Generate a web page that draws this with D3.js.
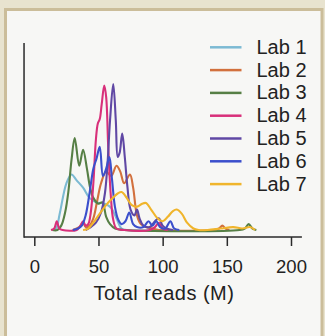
<!DOCTYPE html>
<html><head><meta charset="utf-8">
<script src="https://cdn.jsdelivr.net/npm/d3@7"></script>
<style>body{margin:0;background:#e8e3cf}svg{display:block}</style>
</head><body>
<script>
// ---- data (reads in millions, density in arbitrary units) ----
const labs = ["Lab 1","Lab 2","Lab 3","Lab 4","Lab 5","Lab 6","Lab 7"];
const colors = ["#7cbad3","#d2703d","#567f45","#d8307a","#6048a4","#3b4fcc","#f0b52c"];
const xTicks = [0,50,100,150,200];
const xLabel = "Total reads (M)";

const lab1 = [[15,0],[17,1],[20,12],[25,32],[29,38],[33,34],[38,29],[43,22],[48,19],[55,18],[60,15],[64,8],[68,1],[72,0],[110,0]];
const lab2 = [[30,0],[35,2],[38,5],[40,2],[43,3],[46,8],[49,20],[52,32],[56,40],[60,37],[64,44],[67,40],[70,32],[74.5,38],[77,29],[80,10],[83,4],[87,2],[92,1],[97,0],[140,0],[144,1],[146.5,3],[149,1],[152,0]];
const lab3 = [[14,0],[18,0],[21,3],[24,12],[26.5,26],[29,48],[31.5,63],[35,44],[38,55],[41,42],[43.5,29],[46,22],[50,18],[53,19],[56,9],[59,4],[63,1],[70,0],[160,0],[164,1],[167,4],[170,1],[173,0]];
const lab4 = [[13,0],[15.5,1],[17.5,6],[19.5,1],[22,0],[33,0],[36,3],[38,6],[40,3],[42,4],[44,12],[46,32],[48,62],[49.5,73],[51,76],[52.5,86],[54.5,99],[56,91],[57.6,57],[59.5,25],[61.5,7],[64,1],[70,0],[90,0],[94,2],[97,5],[100,1],[104,0]];
const lab5 = [[40,0],[44,2],[48,5],[52,12],[55,25],[57,45],[59,75],[61.5,100],[63.5,75],[65,50],[66.5,53],[68.5,66],[70.5,50],[72.5,30],[75,14],[78,10],[80,14],[82,8],[85,3],[90,2],[94,6],[97,8],[100,3],[103,1],[108,0]];
const lab6 = [[30,0],[34,1],[37,3],[40,10],[43,25],[46,42],[48.5,49],[51,57],[53.5,37],[56,42],[58.5,50],[60.5,35],[62.8,16],[65.4,7],[68,4],[71,6],[74,12],[77,4],[80,2],[85,2],[89,6],[92,3],[95,6],[98,2],[102,1],[106,6],[109,1],[113,0]];
const lab7 = [[38,0],[42,1],[46,5],[50,10],[55,16],[60,21],[65,25],[68,26],[72,22],[76,17],[80,16],[84,18],[87,18.5],[91,14],[96,8],[100,6],[104,9],[108,13],[111,14],[115,11],[119,5],[124,1],[128,0],[135,0],[145,1],[155,2],[162,1],[168,2],[172,0]];
const series = [lab1,lab2,lab3,lab4,lab5,lab6,lab7];

// ---- drawing ----
const W = 325, H = 336;
const svg = d3.select("body").append("svg").attr("width",W).attr("height",H);
svg.append("rect").attr("width",W).attr("height",H).attr("fill","#e8e3cf");
svg.append("rect").attr("x",5.5).attr("y",9.5).attr("width",316.5).attr("height",335)
  .attr("fill","#f7f7f5").attr("stroke","#cbbd9a").attr("stroke-width",3);

const x = d3.scaleLinear().domain([0,200]).range([34.3,291]);
const y = d3.scaleLinear().domain([0,100]).range([230,84]);
const axisY = 237;
const font = "'Liberation Sans', Arial, sans-serif";

// axes lines
svg.append("line").attr("x1",x(-8)).attr("x2",x(-8)).attr("y1",43).attr("y2",axisY+0.75)
  .attr("stroke","#2a2a2a").attr("stroke-width",1.5);
svg.append("line").attr("x1",x(-8)).attr("x2",x(208.5)).attr("y1",axisY).attr("y2",axisY)
  .attr("stroke","#2a2a2a").attr("stroke-width",1.5);

const gx = svg.append("g").attr("transform",`translate(0,${axisY})`)
  .call(d3.axisBottom(x).tickValues(xTicks).tickSize(9).tickPadding(14).tickSizeOuter(0));
gx.select(".domain").remove();
gx.selectAll(".tick line").attr("stroke","#2a2a2a").attr("stroke-width",1.5);
gx.selectAll(".tick text").attr("font-family",font).attr("font-size",18.5).attr("fill","#222");

svg.append("text").attr("x",164).attr("y",300).attr("text-anchor","middle")
  .attr("font-family",font).attr("font-size",20).attr("letter-spacing",0.5)
  .attr("fill","#222").text(xLabel);

// curves
const line = d3.line().x(d=>x(d[0])).y(d=>Math.min(y(0), y(d[1])))
  .curve(d3.curveCatmullRom.alpha(0.5));
series.forEach((s,i)=>{
  svg.append("path").attr("d",line(s)).attr("fill","none")
    .attr("stroke",colors[i]).attr("stroke-width",2.1).attr("stroke-linejoin","round");
});

// legend
const lg = svg.append("g");
labs.forEach((l,i)=>{
  const yy = 47.3 + i*22.8;
  lg.append("line").attr("x1",210).attr("x2",241.5).attr("y1",yy).attr("y2",yy)
    .attr("stroke",colors[i]).attr("stroke-width",2.5);
  lg.append("text").attr("x",256.5).attr("y",yy+6.5).attr("font-family",font)
    .attr("font-size",20).attr("fill","#222").text(l);
});
</script>
</body></html>
